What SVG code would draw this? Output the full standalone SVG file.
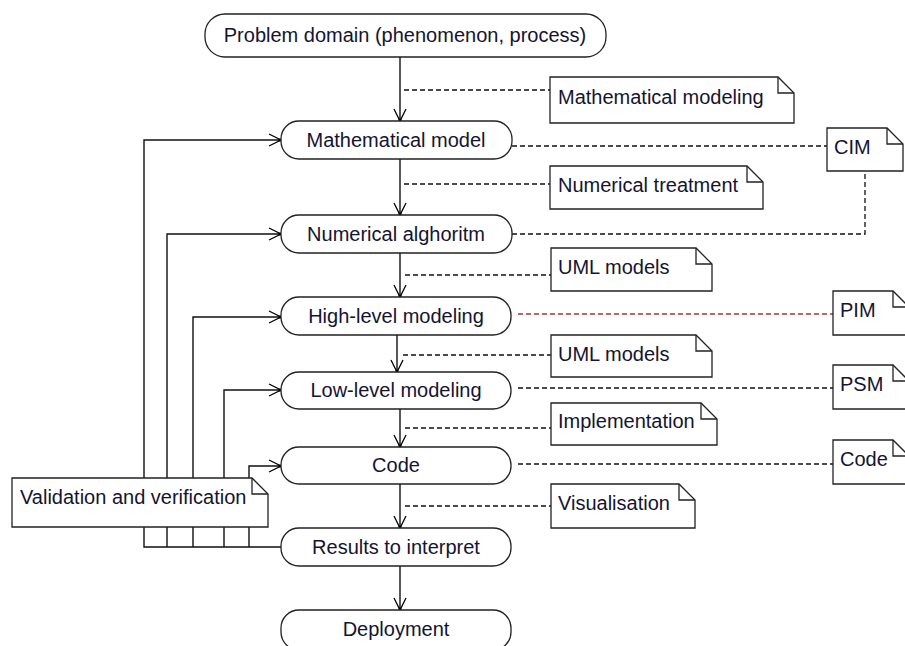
<svg xmlns="http://www.w3.org/2000/svg" width="905" height="646" viewBox="0 0 905 646">
  <defs>
    <marker id="open" markerUnits="userSpaceOnUse" markerWidth="14" markerHeight="14" refX="12" refY="7" orient="auto" overflow="visible">
      <path d="M0,1 L12,7 L0,13" fill="none" stroke="#000" stroke-width="1.3"/>
      <circle cx="11" cy="7" r="1.6" fill="#000"/>
    </marker>
  </defs>
  <style>
    .pill { fill: #fff; stroke: #222; stroke-width: 1.3; }
    .note { fill: #fff; stroke: #222; stroke-width: 1.3; }
    .fold { fill: none; stroke: #222; stroke-width: 1.3; }
    .flow { fill: none; stroke: #111; stroke-width: 1.4; }
    .dash { fill: none; stroke: #111; stroke-width: 1.3; stroke-dasharray: 5 3; }
    .dash.red { stroke: #b03030; }
    text { font-family: "Liberation Sans", Arial, sans-serif; font-size: 20px; fill: #141432; }
    .c { text-anchor: middle; }
  </style>
  <rect width="905" height="646" fill="#fff"/>

  <!-- connectors -->
  <g id="connectors">
    <!-- main flow -->
    <line class="flow" x1="400" y1="57" x2="400" y2="121" marker-end="url(#open)"/>
    <line class="flow" x1="400" y1="159" x2="400" y2="215" marker-end="url(#open)"/>
    <line class="flow" x1="400" y1="253" x2="400" y2="297" marker-end="url(#open)"/>
    <line class="flow" x1="397" y1="335" x2="397" y2="372" marker-end="url(#open)"/>
    <line class="flow" x1="400" y1="409" x2="400" y2="447" marker-end="url(#open)"/>
    <line class="flow" x1="400" y1="484" x2="400" y2="528" marker-end="url(#open)"/>
    <line class="flow" x1="400" y1="566" x2="400" y2="610" marker-end="url(#open)"/>

    <!-- feedback loops from results -->
    <path class="flow" d="M281,547 H144 V140 H281" marker-end="url(#open)"/>
    <path class="flow" d="M167,547 V234 H281" marker-end="url(#open)"/>
    <path class="flow" d="M193,547 V317 H281" marker-end="url(#open)"/>
    <path class="flow" d="M224,547 V390 H281" marker-end="url(#open)"/>
    <path class="flow" d="M249,547 V466 H281" marker-end="url(#open)"/>

    <!-- note attachments on the flow -->
    <line class="dash" x1="404" y1="90" x2="550" y2="90"/>
    <line class="dash" x1="404" y1="184" x2="550" y2="184"/>
    <line class="dash" x1="405" y1="275" x2="551" y2="275"/>
    <line class="dash" x1="403" y1="355" x2="551" y2="355"/>
    <line class="dash" x1="405" y1="428" x2="551" y2="428"/>
    <line class="dash" x1="405" y1="506" x2="551" y2="506"/>

    <!-- model-level attachments -->
    <line class="dash" x1="512" y1="146" x2="827" y2="146"/>
    <path class="dash" d="M512,234 H865 V171"/>
    <line class="dash red" x1="518" y1="314" x2="833" y2="314"/>
    <line class="dash" x1="518" y1="388" x2="833" y2="388"/>
    <line class="dash" x1="518" y1="464" x2="833" y2="464"/>
  </g>

  <!-- activity nodes -->
  <g id="problem-domain">
    <rect class="pill" x="205" y="14" width="401" height="43" rx="20" ry="20"/>
    <text class="c" x="405" y="42">Problem domain (phenomenon, process)</text>
  </g>
  <g id="mathematical-model">
    <rect class="pill" x="281" y="121" width="231" height="38" rx="18" ry="18"/>
    <text class="c" x="396" y="147">Mathematical model</text>
  </g>
  <g id="numerical-alghoritm">
    <rect class="pill" x="281" y="215" width="231" height="38" rx="18" ry="18"/>
    <text class="c" x="396" y="241">Numerical alghoritm</text>
  </g>
  <g id="high-level-modeling">
    <rect class="pill" x="281" y="297" width="230" height="38" rx="18" ry="18"/>
    <text class="c" x="396" y="323">High-level modeling</text>
  </g>
  <g id="low-level-modeling">
    <rect class="pill" x="281" y="372" width="230" height="37" rx="18" ry="18"/>
    <text class="c" x="396" y="397">Low-level modeling</text>
  </g>
  <g id="code">
    <rect class="pill" x="281" y="447" width="230" height="37" rx="18" ry="18"/>
    <text class="c" x="396" y="472">Code</text>
  </g>
  <g id="results-to-interpret">
    <rect class="pill" x="281" y="528" width="230" height="38" rx="18" ry="18"/>
    <text class="c" x="396" y="554">Results to interpret</text>
  </g>
  <g id="deployment">
    <rect class="pill" x="281" y="610" width="230" height="40" rx="18" ry="18"/>
    <text class="c" x="396" y="636">Deployment</text>
  </g>

  <!-- notes -->
  <g id="note-mathematical-modeling">
    <path class="note" d="M550,77 H778 L794,93 V123 H550 Z"/>
    <path class="fold" d="M778,77 V93 H794"/>
    <text x="558" y="104">Mathematical modeling</text>
  </g>
  <g id="note-cim">
    <path class="note" d="M827,128 H887 L903,144 V171 H827 Z"/>
    <path class="fold" d="M887,128 V144 H903"/>
    <text x="834" y="154">CIM</text>
  </g>
  <g id="note-numerical-treatment">
    <path class="note" d="M550,166 H747 L763,182 V209 H550 Z"/>
    <path class="fold" d="M747,166 V182 H763"/>
    <text x="558" y="192">Numerical treatment</text>
  </g>
  <g id="note-uml-models-1">
    <path class="note" d="M551,248 H696 L712,264 V291 H551 Z"/>
    <path class="fold" d="M696,248 V264 H712"/>
    <text x="558" y="274">UML models</text>
  </g>
  <g id="note-pim">
    <path class="note" d="M833,291 H893 L909,307 V335 H833 Z"/>
    <path class="fold" d="M893,291 V307 H909"/>
    <text x="840" y="317">PIM</text>
  </g>
  <g id="note-uml-models-2">
    <path class="note" d="M551,335 H696 L712,351 V377 H551 Z"/>
    <path class="fold" d="M696,335 V351 H712"/>
    <text x="558" y="361">UML models</text>
  </g>
  <g id="note-psm">
    <path class="note" d="M833,365 H893 L909,381 V409 H833 Z"/>
    <path class="fold" d="M893,365 V381 H909"/>
    <text x="840" y="391">PSM</text>
  </g>
  <g id="note-implementation">
    <path class="note" d="M551,403 H701 L717,419 V445 H551 Z"/>
    <path class="fold" d="M701,403 V419 H717"/>
    <text x="558" y="428">Implementation</text>
  </g>
  <g id="note-code">
    <path class="note" d="M833,440 H893 L909,456 V484 H833 Z"/>
    <path class="fold" d="M893,440 V456 H909"/>
    <text x="840" y="466">Code</text>
  </g>
  <g id="note-visualisation">
    <path class="note" d="M551,484 H679 L695,500 V528 H551 Z"/>
    <path class="fold" d="M679,484 V500 H695"/>
    <text x="558" y="510">Visualisation</text>
  </g>
  <g id="note-validation-and-verification">
    <path class="note" d="M12,478 H252 L268,494 V527 H12 Z"/>
    <path class="fold" d="M252,478 V494 H268"/>
    <text x="20" y="504">Validation and verification</text>
  </g>
</svg>
